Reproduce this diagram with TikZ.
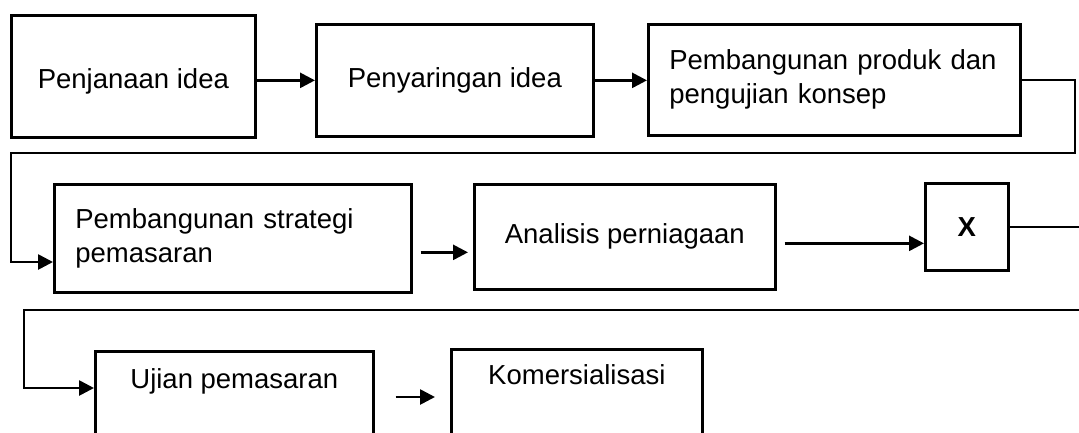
\documentclass[tikz,border=0pt]{standalone}
\usepackage{fontspec}
\setmainfont{Liberation Sans}
\usepackage{tikz}
\usetikzlibrary{arrows.meta}
\usetikzlibrary{positioning}
\usetikzlibrary{calc}
\tikzstyle{box}=[draw,rectangle,line width=2.7pt,inner sep=0pt,anchor=north west,font=\fontsize{27.5}{34}\selectfont]
\tikzstyle{flow}=[->,>={Triangle[length=15pt,width=15pt]},line width=2.7pt]

\begin{document}
\begin{tikzpicture}[x=1pt,y=-1pt]
\useasboundingbox (0,0) rectangle (1079,432);
\clip (0,0) rectangle (1079,432);
% baris 1
\node [box,minimum width=244pt,minimum height=122pt,text height=30pt,text depth=6pt] (jana) at (10,14) {Penjanaan idea};
\node [box,minimum width=277pt,minimum height=112pt] (saring) at (315,23) {Penyaringan idea};
\node [box,minimum width=372pt,minimum height=111pt,text width=330pt,inner xsep=21pt,align=left] (bina) at (647,23) {Pembangunan produk dan\\pengujian konsep};
% baris 2
\node [box,minimum width=357pt,minimum height=108pt,text width=315pt,inner xsep=21pt,align=left] (strategi) at (53,183) {Pembangunan strategi\\pemasaran};
\node [box,minimum width=301pt,minimum height=105pt] (analisis) at (473,183) {Analisis perniagaan};
\node [box,minimum width=83pt,minimum height=87pt] (X) at (924,182) {\bfseries X};
% baris 3
\node [box,minimum width=278pt,minimum height=150pt,text height=37pt,text depth=113pt] (ujian) at (94,350) {Ujian pemasaran};
\node [box,minimum width=251pt,minimum height=150pt,text height=35pt,text depth=115pt] (komersial) at (450,348) {Komersialisasi};

\draw[flow] (jana.east |- saring.west) -- (saring.west);
\draw[flow] (saring.east) -- (saring.east -| bina.west);

\coordinate (A) at (1075,153);
\coordinate (B) at (11,262);
\draw[flow] (bina.east) -| (A) -| (B) -- (B -| strategi.west);

\coordinate (C) at ([xshift=8pt,yshift=-14pt]strategi.east);
\draw[flow,shorten >=5pt] (C) -- (C -| analisis.west);
\coordinate (D) at ([xshift=8pt,yshift=-6.5pt]analisis.east);
\draw[flow] (D) -- (D -| X.west);

\coordinate (E) at (1100,310);
\coordinate (F) at (24,388);
\draw[flow] (X.east) -| (E) -| (F) -- (F -| ujian.west);

\coordinate (G) at ([xshift=21pt,yshift=-47pt]ujian.north east);
\draw[flow,shorten >=15pt] (G) -- (G -| komersial.west);
\end{tikzpicture}
\end{document}
